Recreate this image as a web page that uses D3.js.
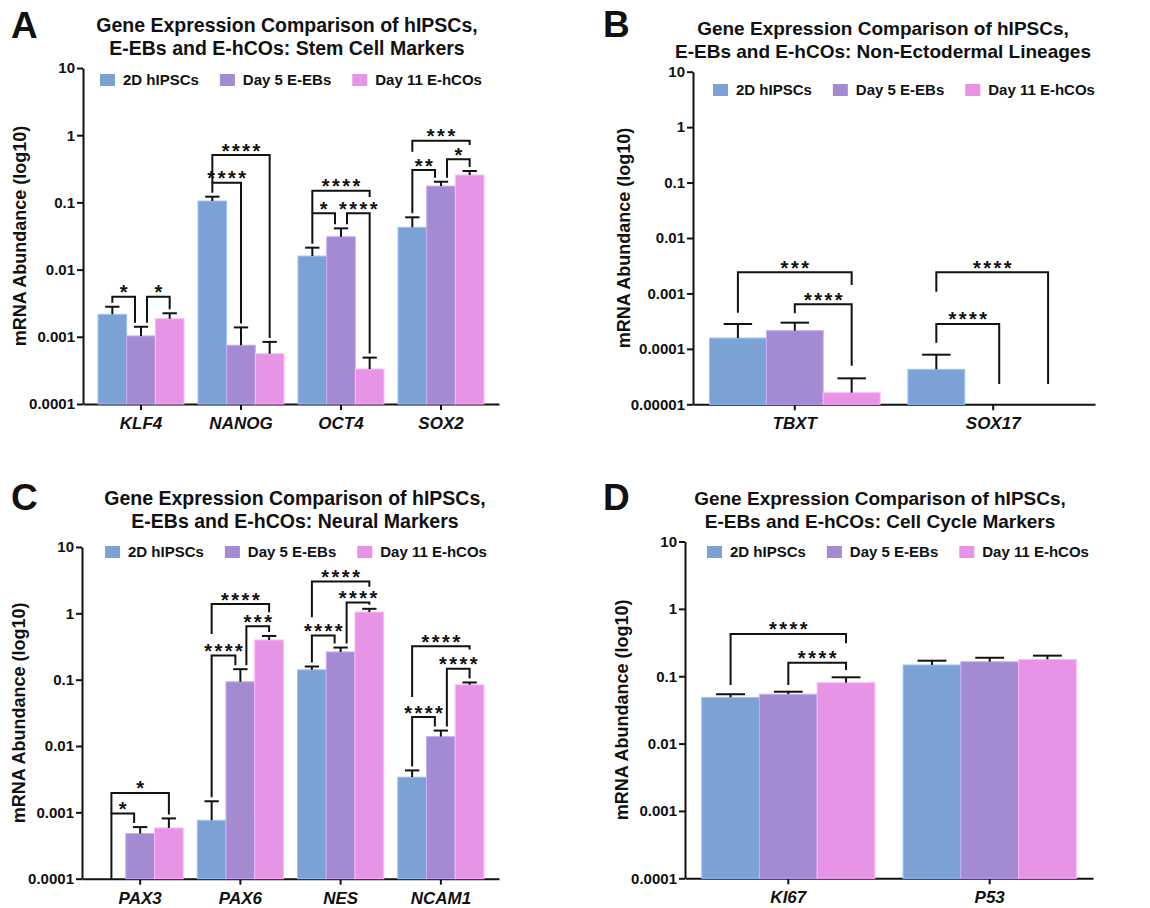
<!DOCTYPE html>
<html>
<head>
<meta charset="utf-8">
<script src="https://cdn.jsdelivr.net/npm/d3@7"></script>
<style>
  body { margin: 0; background: #fff; }
  svg { display: block; font-family: "Liberation Sans", Arial, sans-serif; }
</style>
</head>
<body>
<svg id="chart"></svg>
<script>
// shared
const seriesNames = ['2D hIPSCs', 'Day 5 E-EBs', 'Day 11 E-hCOs'];
const seriesColors = ['#7ca1d5', '#a48ad0', '#e894e6'];

// A: stem cell markers
const genesA = ['KLF4', 'NANOG', 'OCT4', 'SOX2'];
const hipscA = [0.00216, 0.105, 0.0159, 0.0426];
const ebA = [0.00103, 0.00075, 0.0309, 0.175];
const hcoA = [0.00186, 0.00056, 0.000332, 0.256];
const hipscSemA = [0.00064, 0.0166, 0.0053, 0.0174];
const ebSemA = [0.00038, 0.00063, 0.0102, 0.028];
const hcoSemA = [0.00038, 0.00028, 0.000158, 0.037];
const bracketsA = [
    {g: 0, a: 0, b: 1, h: 0.00395, db: -6, t: '*'},
    {g: 0, a: 1, b: 2, h: 0.00395, da: 6, t: '*'},
    {g: 1, a: 0, b: 1, h: 0.196, t: '****'},
    {g: 1, a: 0, b: 2, h: 0.507, la: 0.196, t: '****'},
    {g: 2, a: 0, b: 1, h: 0.0689, db: -6, t: '*'},
    {g: 2, a: 1, b: 2, h: 0.0689, da: 6, t: '****'},
    {g: 2, a: 0, b: 2, h: 0.149, la: 0.0689, lb: 0.120, t: '****'},
    {g: 3, a: 0, b: 1, h: 0.303, db: -6, t: '**'},
    {g: 3, a: 1, b: 2, h: 0.438, da: 6, t: '*'},
    {g: 3, a: 0, b: 2, h: 0.828, la: 0.567, lb: 0.714, t: '***'}
];

// B: non-ectodermal lineages
const genesB = ['TBXT', 'SOX17'];
const hipscB = [0.000157, 0.0000428];
const ebB = [0.000213, null];
const hcoB = [0.0000162, null];
const hipscSemB = [0.000124, 0.0000357];
const ebSemB = [0.000084, null];
const hcoSemB = [0.0000132, null];
const bracketsB = [
    {g: 0, a: 0, b: 2, h: 0.00240, la: 0.000450, lb: 0.00142, t: '***'},
    {g: 0, a: 1, b: 2, h: 0.000637, la: 0.000439, lb: 0.0000497, t: '****'},
    {g: 1, a: 0, b: 2, h: 0.00240, la: 0.00107, lb: 0.0000232, db: -2, t: '****'},
    {g: 1, a: 0, b: 1, h: 0.000281, la: 0.000129, lb: 0.0000232, db: 6, t: '****'}
];

// C: neural markers
const genesC = ['PAX3', 'PAX6', 'NES', 'NCAM1'];
const hipscC = [null, 0.00076, 0.141, 0.0034];
const ebC = [0.00048, 0.093, 0.262, 0.0139];
const hcoC = [0.000583, 0.397, 1.047, 0.0838];
const hipscSemC = [null, 0.00071, 0.017, 0.00089];
const ebSemC = [0.00012, 0.051, 0.043, 0.0032];
const hcoSemC = [0.000227, 0.059, 0.123, 0.007];
const bracketsC = [
    {g: 0, a: 0, b: 1, h: 0.000962, la: 0.0001, db: -6, t: '*'},
    {g: 0, a: 0, b: 2, h: 0.00196, la: 0.000962, t: '*'},
    {g: 1, a: 0, b: 1, h: 0.231, db: -5, t: '****'},
    {g: 1, a: 1, b: 2, h: 0.638, da: 6, t: '***'},
    {g: 1, a: 0, b: 2, h: 1.38, la: 0.49, lb: 1.035, t: '****'},
    {g: 2, a: 0, b: 1, h: 0.462, db: -6, t: '****'},
    {g: 2, a: 1, b: 2, h: 1.46, da: 6, t: '****'},
    {g: 2, a: 0, b: 2, h: 3.03, la: 0.871, lb: 2.52, t: '****'},
    {g: 3, a: 0, b: 1, h: 0.0273, db: -6, t: '****'},
    {g: 3, a: 1, b: 2, h: 0.146, da: 6, t: '****'},
    {g: 3, a: 0, b: 2, h: 0.319, la: 0.0546, lb: 0.284, t: '****'}
];

// D: cell cycle markers
const genesD = ['KI67', 'P53'];
const hipscD = [0.0486, 0.147];
const ebD = [0.054, 0.164];
const hcoD = [0.0802, 0.178];
const hipscSemD = [0.0054, 0.023];
const ebSemD = [0.0049, 0.024];
const hcoSemD = [0.0162, 0.024];
const bracketsD = [
    {g: 0, a: 0, b: 2, h: 0.424, la: 0.0741, lb: 0.308, t: '****'},
    {g: 0, a: 1, b: 2, h: 0.159, la: 0.0741, lb: 0.124, t: '****'}
];

class LogBarChart {

    constructor( config, data ) {
        this.config = {
            parent: config.parent,
            x0: config.x0, x1: config.x1,
            yTop: config.yTop, yBot: config.yBot,
            yMin: config.yMin || 1e-4,
            yMax: config.yMax || 10,
            padOuter: config.padOuter || 0.15,
            title: config.title || [],
            titleX: config.titleX, titleY: config.titleY,
            titleSize: config.titleSize || 19.5,
            letter: config.letter || '',
            letterX: config.letterX, letterY: config.letterY,
            legendX: config.legendX, legendY: config.legendY,
            ylabelX: config.ylabelX,
            ylabel: config.ylabel || 'mRNA Abundance (log10)'
        }
        this.data = data;
        this.init();
    }

    init() {
        let self = this;
        const c = self.config;

        self.chart = c.parent.append('g');

        self.xscale = d3.scaleBand()
            .domain(self.data.genes)
            .range([c.x0, c.x1])
            .paddingInner(0.14)
            .paddingOuter(c.padOuter);

        self.yscale = d3.scaleLog()
            .domain([c.yMin, c.yMax])
            .range([c.yBot, c.yTop]);

        const e0 = Math.round(Math.log10(c.yMin));
        const e1 = Math.round(Math.log10(c.yMax));
        const decades = d3.range(e0, e1 + 1).map(e => Math.pow(10, e));
        const fmt = d => d >= 1 ? d3.format('d')(d) : d.toFixed(Math.round(-Math.log10(d)));

        const yaxis = d3.axisLeft(self.yscale)
            .tickValues(decades)
            .tickFormat(fmt)
            .tickSize(6)
            .tickSizeOuter(0)
            .tickPadding(2);

        const xaxis = d3.axisBottom(self.xscale)
            .tickSize(6)
            .tickSizeOuter(0)
            .tickPadding(7);

        self.yaxis_group = self.chart.append('g')
            .attr('transform', `translate(${c.x0}, 0)`)
            .call(yaxis);
        self.yaxis_group.selectAll('text')
            .style('font-size', '15px')
            .style('font-weight', 'bold')
            .style('font-family', '"Liberation Sans", Arial, sans-serif')
            .attr('fill', '#111');

        self.xaxis_group = self.chart.append('g')
            .attr('transform', `translate(0, ${c.yBot})`)
            .call(xaxis);
        self.xaxis_group.selectAll('text')
            .style('font-size', '17px')
            .style('font-weight', 'bold')
            .style('font-style', 'italic')
            .style('font-family', '"Liberation Sans", Arial, sans-serif')
            .attr('fill', '#111');

        [self.yaxis_group, self.xaxis_group].forEach(g => {
            g.selectAll('path, line')
                .attr('stroke', '#111')
                .attr('stroke-width', 2);
        });

        // panel letter
        self.chart.append('text')
            .attr('x', c.letterX)
            .attr('y', c.letterY)
            .style('font-size', '37px')
            .style('font-weight', 'bold')
            .attr('fill', '#111')
            .text(c.letter);

        // title
        self.chart.selectAll('.title')
            .data(c.title)
            .enter()
            .append('text')
            .attr('class', 'title')
            .attr('x', c.titleX)
            .attr('y', (d, i) => c.titleY + i * 23.3)
            .attr('text-anchor', 'middle')
            .style('font-size', c.titleSize + 'px')
            .style('font-weight', 'bold')
            .attr('fill', '#111')
            .text(d => d);

        // y label
        self.chart.append('text')
            .attr('transform', `translate(${c.ylabelX}, ${(c.yTop + c.yBot) / 2}) rotate(-90)`)
            .attr('text-anchor', 'middle')
            .attr('dy', '0.35em')
            .style('font-size', '18px')
            .style('font-weight', 'bold')
            .attr('fill', '#111')
            .text(c.ylabel);

        // legend
        let lx = c.legendX;
        seriesNames.forEach((name, i) => {
            self.chart.append('rect')
                .attr('x', lx)
                .attr('y', c.legendY)
                .attr('width', 15)
                .attr('height', 12)
                .attr('fill', seriesColors[i]);
            const t = self.chart.append('text')
                .attr('x', lx + 23)
                .attr('y', c.legendY + 10.5)
                .style('font-size', '15px')
                .style('font-weight', 'bold')
                .attr('fill', '#111')
                .text(name);
            lx += 23 + t.node().getComputedTextLength() + 21;
        });
    }

    update() {
        let self = this;
        self.render();
    }

    render() {
        let self = this;
        const c = self.config;
        const x = self.xscale;
        const y = self.yscale;
        const bw = x.bandwidth() / 3;

        const bars = [];
        self.data.series.forEach((vals, si) => {
            vals.forEach((v, gi) => {
                if (v == null) return;
                bars.push({gene: self.data.genes[gi], s: si, v: v, sem: self.data.errors[si][gi]});
            });
        });

        const center = (gene, s) => x(gene) + (s + 0.5) * bw;

        self.chart.selectAll('.bar')
            .data(bars)
            .enter()
            .append('rect')
            .attr('class', 'bar')
            .attr('x', d => x(d.gene) + d.s * bw)
            .attr('y', d => y(d.v))
            .attr('width', bw)
            .attr('height', d => y(c.yMin) - y(d.v))
            .attr('fill', d => seriesColors[d.s])
            .attr('stroke', d => d3.color(seriesColors[d.s]).brighter(0.6))
            .attr('stroke-width', 1);

        // error bars, upper side only
        const err = self.chart.selectAll('.err')
            .data(bars)
            .enter()
            .append('g')
            .attr('class', 'err')
            .attr('stroke', '#111')
            .attr('stroke-width', 2);
        err.append('line')
            .attr('x1', d => center(d.gene, d.s))
            .attr('x2', d => center(d.gene, d.s))
            .attr('y1', d => y(d.v))
            .attr('y2', d => y(d.v + d.sem));
        err.append('line')
            .attr('x1', d => center(d.gene, d.s) - bw / 4)
            .attr('x2', d => center(d.gene, d.s) + bw / 4)
            .attr('y1', d => y(d.v + d.sem))
            .attr('y2', d => y(d.v + d.sem));

        // significance brackets
        const legEnd = (gi, s, val) => {
            if (val != null) return y(val);
            const v = self.data.series[s][gi];
            if (v == null) return y(c.yMin);
            return y(v + self.data.errors[s][gi]) - 4;
        };

        const br = self.chart.selectAll('.bracket')
            .data(self.data.brackets)
            .enter()
            .append('g')
            .attr('class', 'bracket');

        br.append('path')
            .attr('fill', 'none')
            .attr('stroke', '#111')
            .attr('stroke-width', 2)
            .attr('d', d => {
                const gene = self.data.genes[d.g];
                const xa = center(gene, d.a) + (d.da || 0);
                const xb = center(gene, d.b) + (d.db || 0);
                const yh = y(d.h);
                return `M${xa},${legEnd(d.g, d.a, d.la)}V${yh}H${xb}V${legEnd(d.g, d.b, d.lb)}`;
            });

        br.append('text')
            .attr('x', d => {
                const gene = self.data.genes[d.g];
                return (center(gene, d.a) + (d.da || 0) + center(gene, d.b) + (d.db || 0)) / 2 + 1.25;
            })
            .attr('y', d => y(d.h) + 2.5)
            .attr('text-anchor', 'middle')
            .style('font-size', '20px')
            .style('font-weight', 'bold')
            .style('letter-spacing', '2.5px')
            .attr('fill', '#111')
            .text(d => d.t);
    }
}

const svg = d3.select('#chart')
    .attr('width', 1150)
    .attr('height', 908);

const panels = [
    {
        config: {x0: 83, x1: 499, yTop: 68, yBot: 404, yMin: 1e-4, padOuter: 0.15,
            title: ['Gene Expression Comparison of hIPSCs,', 'E-EBs and E-hCOs: Stem Cell Markers'],
            titleX: 287, titleY: 31.7, titleSize: 19.5, letter: 'A', letterX: 11, letterY: 38,
            legendX: 100, legendY: 74, ylabelX: 20},
        data: {genes: genesA, series: [hipscA, ebA, hcoA], errors: [hipscSemA, ebSemA, hcoSemA], brackets: bracketsA}
    },
    {
        config: {x0: 693, x1: 1095, yTop: 71.7, yBot: 404.3, yMin: 1e-5, padOuter: 0.083,
            title: ['Gene Expression Comparison of hIPSCs,', 'E-EBs and E-hCOs: Non-Ectodermal Lineages'],
            titleX: 883, titleY: 35, titleSize: 19, letter: 'B', letterX: 603, letterY: 37,
            legendX: 713, legendY: 84, ylabelX: 623.5},
        data: {genes: genesB, series: [hipscB, ebB, hcoB], errors: [hipscSemB, ebSemB, hcoSemB], brackets: bracketsB}
    },
    {
        config: {x0: 82, x1: 499, yTop: 547, yBot: 878.7, yMin: 1e-4, padOuter: 0.15,
            title: ['Gene Expression Comparison of hIPSCs,', 'E-EBs and E-hCOs: Neural Markers'],
            titleX: 295, titleY: 505, titleSize: 19.5, letter: 'C', letterX: 11, letterY: 510,
            legendX: 105, legendY: 546, ylabelX: 19},
        data: {genes: genesC, series: [hipscC, ebC, hcoC], errors: [hipscSemC, ebSemC, hcoSemC], brackets: bracketsC}
    },
    {
        config: {x0: 685, x1: 1093, yTop: 541.5, yBot: 878.3, yMin: 1e-4, padOuter: 0.083,
            title: ['Gene Expression Comparison of hIPSCs,', 'E-EBs and E-hCOs: Cell Cycle Markers'],
            titleX: 880, titleY: 505, titleSize: 19, letter: 'D', letterX: 603, letterY: 510,
            legendX: 707, legendY: 546, ylabelX: 621.7},
        data: {genes: genesD, series: [hipscD, ebD, hcoD], errors: [hipscSemD, ebSemD, hcoSemD], brackets: bracketsD}
    }
];

panels.forEach(p => {
    p.config.parent = svg;
    const chart = new LogBarChart(p.config, p.data);
    chart.update();
});
</script>
</body>
</html>
